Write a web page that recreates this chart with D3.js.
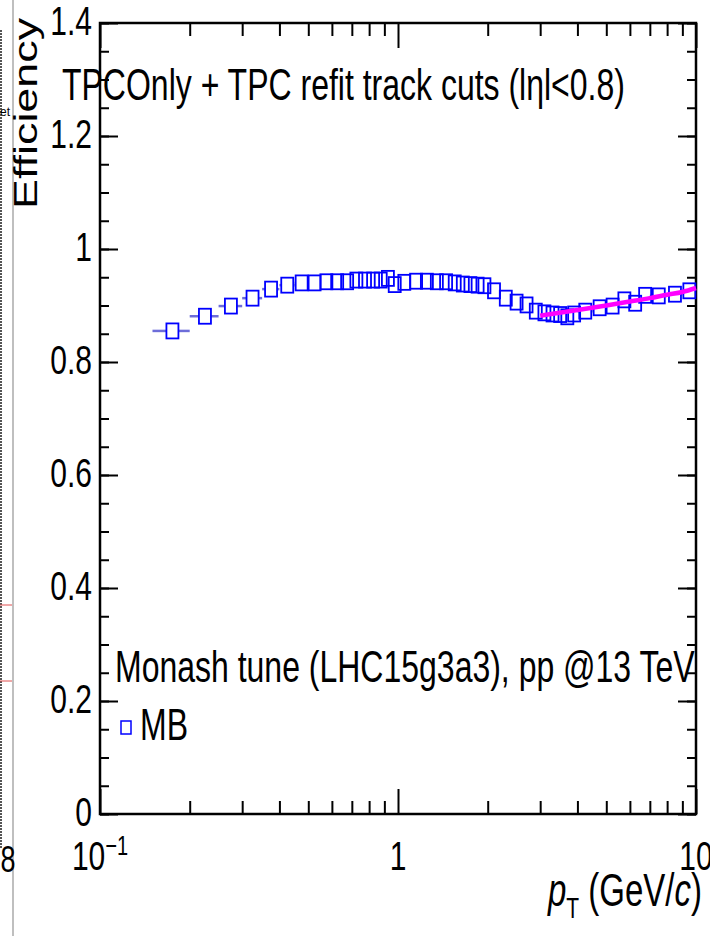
<!DOCTYPE html>
<html>
<head>
<meta charset="utf-8">
<script src="https://cdn.jsdelivr.net/npm/d3@7"></script>
<style>
  body { margin: 0; background: #fff; }
  svg { display: block; }
  text { font-family: "Liberation Sans", Arial, sans-serif; fill: #000; }
</style>
</head>
<body>
<script>
// pT bin edges (GeV/c) and efficiency per bin
const binEdges = [0.15, 0.2, 0.25, 0.3, 0.35, 0.4, 0.45, 0.5, 0.55, 0.6, 0.65, 0.7, 0.75, 0.8, 0.85, 0.9, 0.95,
  1.0, 1.1, 1.2, 1.3, 1.4, 1.5, 1.6, 1.7, 1.8, 1.9, 2.0, 2.2, 2.4, 2.6, 2.8, 3.0, 3.2, 3.4, 3.6, 3.8, 4.0,
  4.5, 5.0, 5.5, 6.0, 6.5, 7.0, 8.0, 9.0, 10.0];
const efficiency = [0.855, 0.881, 0.899, 0.913, 0.929, 0.936, 0.940, 0.940, 0.942, 0.942, 0.942, 0.945, 0.945,
  0.945, 0.945, 0.948, 0.937, 0.941, 0.943, 0.943, 0.942, 0.942, 0.940, 0.938, 0.937, 0.936, 0.935, 0.926,
  0.913, 0.906, 0.901, 0.890, 0.887, 0.885, 0.884, 0.880, 0.885, 0.890, 0.896, 0.899, 0.910, 0.904, 0.918,
  0.917, 0.920, 0.926];

// magenta fit curve
const fitPt = [3.0, 4.0, 5.0, 6.0, 7.0, 8.0, 9.0, 10.0];
const fitEff = [0.882, 0.892, 0.900, 0.907, 0.913, 0.919, 0.924, 0.931];

const yMajor = [0, 0.2, 0.4, 0.6, 0.8, 1.0, 1.2, 1.4];
const yLabels = ["0", "0.2", "0.4", "0.6", "0.8", "1", "1.2", "1.4"];
const xMajor = [0.1, 1, 10];
const xMinor = [0.2, 0.3, 0.4, 0.5, 0.6, 0.7, 0.8, 0.9, 2, 3, 4, 5, 6, 7, 8, 9];

const W = 710, H = 936;
const stretch = 1.38; // the picture is stretched vertically

const svg = d3.select("body").append("svg").attr("width", W).attr("height", H);

const x = d3.scaleLog().domain([0.1, 10]).range([100, 696]);
const y = d3.scaleLinear().domain([0, 1.4]).range([814, 23]);

// leftovers of the neighbouring pad on the left edge
svg.append("line").attr("x1", 13).attr("x2", 13).attr("y1", 0).attr("y2", H)
  .attr("stroke", "#aaa").attr("stroke-width", 1.5);
svg.append("line").attr("x1", 1).attr("x2", 1).attr("y1", 30).attr("y2", 848)
  .attr("stroke", "#555").attr("stroke-width", 2).attr("stroke-dasharray", "2,1");
[605, 681].forEach(v => svg.append("line").attr("x1", 0).attr("x2", 12).attr("y1", v).attr("y2", v)
  .attr("stroke", "#e05050").attr("stroke-width", 1));
svg.append("text").attr("x", 0).attr("y", 116).attr("font-size", 12).attr("fill", "#444").text("et");
svg.append("text").attr("transform", `translate(-7,872) scale(1,${stretch})`).attr("font-size", 27).text(".8");

// helper: vertically stretched text
function label(g, px, py, str, size, anchor) {
  return g.append("text")
    .attr("transform", `translate(${px},${py}) scale(1,${stretch})`)
    .attr("font-size", size)
    .attr("text-anchor", anchor || "start")
    .text(str);
}

const frame = svg.append("g");

// y axes: left ticks point right, right ticks point left
const yMinor = d3.range(0, 1.4001, 0.05);
frame.append("g").attr("transform", "translate(100,0)")
  .call(d3.axisLeft(y).tickValues(yMinor).tickSize(-9).tickFormat(""));
frame.append("g").attr("transform", "translate(100,0)")
  .call(d3.axisLeft(y).tickValues(yMajor).tickSize(-18).tickFormat(""));
frame.append("g").attr("transform", "translate(696,0)")
  .call(d3.axisRight(y).tickValues(yMinor).tickSize(-9).tickFormat(""));
frame.append("g").attr("transform", "translate(696,0)")
  .call(d3.axisRight(y).tickValues(yMajor).tickSize(-18).tickFormat(""));

// x axes: bottom ticks point up, top ticks point down
frame.append("g").attr("transform", "translate(0,814)")
  .call(d3.axisBottom(x).tickValues(xMinor).tickSize(-13).tickFormat(""));
frame.append("g").attr("transform", "translate(0,814)")
  .call(d3.axisBottom(x).tickValues(xMajor).tickSize(-25).tickFormat(""));
frame.append("g").attr("transform", "translate(0,23)")
  .call(d3.axisTop(x).tickValues(xMinor).tickSize(-13).tickFormat(""));
frame.append("g").attr("transform", "translate(0,23)")
  .call(d3.axisTop(x).tickValues(xMajor).tickSize(-25).tickFormat(""));

frame.selectAll(".domain").remove();
frame.selectAll(".tick line").attr("stroke", "#000").attr("stroke-width", 2);
frame.append("rect").attr("x", 100).attr("y", 23).attr("width", 596).attr("height", 791)
  .attr("fill", "none").attr("stroke", "#000").attr("stroke-width", 2.5);

// tick labels
yMajor.forEach((v, i) => label(svg, 92, y(v) + 12, yLabels[i], 30, "end"));
const xl = svg.append("g");
label(xl, x(1), 870, "1", 30, "middle");
label(xl, x(10), 870, "10", 30, "middle");
const tDec = xl.append("text")
  .attr("transform", `translate(${x(0.1)},870) scale(1,${stretch})`)
  .attr("font-size", 30).attr("text-anchor", "middle");
tDec.append("tspan").text("10");
tDec.append("tspan").attr("font-size", 20).attr("dy", -11).text("\u22121");

// axis titles
svg.append("text")
  .attr("transform", `translate(37,209) scale(1,${stretch}) rotate(-90)`)
  .attr("font-size", 32.5)
  .text("Efficiency");

const xt = svg.append("g").attr("transform", `translate(548,906) scale(1,${stretch})`);
const xtt = xt.append("text").attr("font-size", 33);
xtt.append("tspan").attr("font-style", "italic").text("p");
xtt.append("tspan").attr("font-size", 21).attr("dy", 9).text("T");
xtt.append("tspan").attr("dy", -9).text(" (GeV/");
xtt.append("tspan").attr("font-style", "italic").text("c");
xtt.append("tspan").text(")");

// annotations
label(svg, 62, 100, "TPCOnly + TPC refit track cuts (l\u03B7l<0.8)", 32);
label(svg, 115, 682, "Monash tune (LHC15g3a3), pp @13 TeV", 32);
label(svg, 140, 740, "MB", 32);
svg.append("rect").attr("x", 121).attr("y", 721).attr("width", 10).attr("height", 13)
  .attr("fill", "none").attr("stroke", "#0000ff").attr("stroke-width", 1.5);

// data
const bins = efficiency.map((v, i) => ({
  lo: binEdges[i], hi: binEdges[i + 1], c: (binEdges[i] + binEdges[i + 1]) / 2, v
}));
const mw = 12, mh = 15;
const plot = svg.append("g");

plot.selectAll(".err-l").data(bins).join("line")
  .attr("x1", d => x(d.lo)).attr("x2", d => Math.max(x(d.lo), x(d.c) - mw / 2))
  .attr("y1", d => y(d.v)).attr("y2", d => y(d.v))
  .attr("stroke", "#3c3ccc").attr("stroke-opacity", 0.75).attr("stroke-width", 2.5);
plot.selectAll(".err-r").data(bins).join("line")
  .attr("x1", d => Math.min(x(d.hi), x(d.c) + mw / 2)).attr("x2", d => x(d.hi))
  .attr("y1", d => y(d.v)).attr("y2", d => y(d.v))
  .attr("stroke", "#3c3ccc").attr("stroke-opacity", 0.75).attr("stroke-width", 2.5);

plot.selectAll("rect.m").data(bins).join("rect")
  .attr("x", d => x(d.c) - mw / 2).attr("y", d => y(d.v) - mh / 2)
  .attr("width", mw).attr("height", mh)
  .attr("fill", "none").attr("stroke", "#0000ff").attr("stroke-width", 1.8);

const fitLine = d3.line().curve(d3.curveMonotoneX)
  .x((d, i) => x(fitPt[i])).y(d => y(d));
plot.append("path").datum(fitEff).attr("d", fitLine)
  .attr("fill", "none").attr("stroke", "#ff00ff").attr("stroke-width", 4.5);
</script>
</body>
</html>
